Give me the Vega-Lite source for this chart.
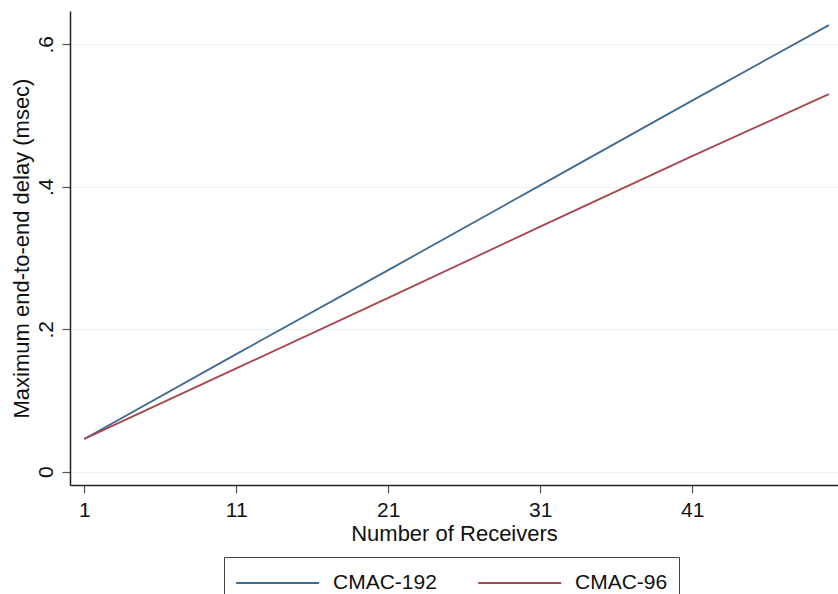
{
  "$schema": "https://vega.github.io/schema/vega-lite/v6.json",
  "autosize": {"type": "none"},
  "width": 768,
  "height": 474,
  "padding": {"left": 70, "top": 11, "right": 0, "bottom": 109},
  "background": "white",
  "config": {
    "font": "Liberation Sans",
    "view": {"stroke": null},
    "axis": {"labelFont": "Liberation Sans", "titleFont": "Liberation Sans", "labelColor": "#111", "titleColor": "#111", "titleFontWeight": "normal"}
  },
  "data": {
    "values": [
      {"receivers": 1, "delay": 0.046, "series": "CMAC-192"},
      {"receivers": 11, "delay": 0.165, "series": "CMAC-192"},
      {"receivers": 21, "delay": 0.283, "series": "CMAC-192"},
      {"receivers": 31, "delay": 0.402, "series": "CMAC-192"},
      {"receivers": 41, "delay": 0.521, "series": "CMAC-192"},
      {"receivers": 50, "delay": 0.627, "series": "CMAC-192"},
      {"receivers": 1, "delay": 0.046, "series": "CMAC-96"},
      {"receivers": 11, "delay": 0.145, "series": "CMAC-96"},
      {"receivers": 21, "delay": 0.244, "series": "CMAC-96"},
      {"receivers": 31, "delay": 0.344, "series": "CMAC-96"},
      {"receivers": 41, "delay": 0.443, "series": "CMAC-96"},
      {"receivers": 50, "delay": 0.530, "series": "CMAC-96"}
    ]
  },
  "mark": {"type": "line", "strokeWidth": 1.8, "clip": true},
  "encoding": {
    "x": {
      "field": "receivers",
      "type": "quantitative",
      "title": "Number of Receivers",
      "scale": {"domain": [0.06, 50.6], "nice": false, "zero": false},
      "axis": {
        "values": [1, 11, 21, 31, 41],
        "grid": false,
        "domainColor": "#222",
        "domainWidth": 1.5,
        "tickColor": "#555",
        "tickSize": 8,
        "tickWidth": 1.2,
        "labelFontSize": 21,
        "labelPadding": 6,
        "titleFontSize": 22,
        "titlePadding": 3
      }
    },
    "y": {
      "field": "delay",
      "type": "quantitative",
      "title": "Maximum end-to-end delay (msec)",
      "scale": {"domain": [-0.0187, 0.6468], "nice": false, "zero": false},
      "axis": {
        "values": [0, 0.2, 0.4, 0.6],
        "labelExpr": "datum.value == 0 ? '0' : replace(format(datum.value, '.1f'), '0.', '.')",
        "labelAngle": 270,
        "labelAlign": "center",
        "labelBaseline": "alphabetic",
        "labelPadding": 10,
        "grid": true,
        "gridColor": "#e8f0f2",
        "gridWidth": 1.2,
        "domainColor": "#222",
        "domainWidth": 1.5,
        "tickColor": "#555",
        "tickSize": 8,
        "tickWidth": 1.2,
        "labelFontSize": 21,
        "titleFontSize": 22,
        "titlePadding": 2
      }
    },
    "color": {
      "field": "series",
      "type": "nominal",
      "scale": {"domain": ["CMAC-192", "CMAC-96"], "range": ["#3f6b90", "#a9464f"]},
      "legend": {
        "title": null,
        "orient": "none",
        "legendX": 154,
        "legendY": 546,
        "direction": "horizontal",
        "symbolType": "M-1,0H5",
        "symbolSize": 765,
        "symbolStrokeWidth": 2,
        "labelFontSize": 21,
        "labelColor": "#111",
        "labelOffset": 68,
        "columnPadding": 37,
        "strokeColor": "#444",
        "fillColor": "white",
        "padding": 11
      }
    }
  }
}
